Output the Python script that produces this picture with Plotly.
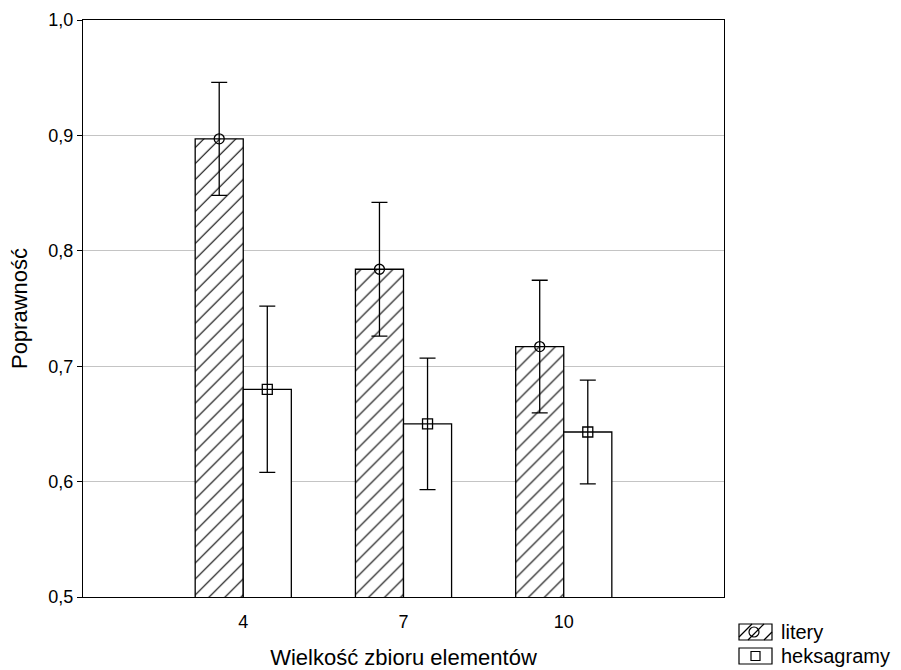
import plotly.graph_objects as go

# Set sizes and group means with their error-bar half-widths
set_sizes = ["4", "7", "10"]
litery_mean = [0.897, 0.784, 0.717]
litery_err = [0.049, 0.058, 0.0575]
heks_mean = [0.680, 0.650, 0.643]
heks_err = [0.072, 0.057, 0.045]
y_ticks = [0.5, 0.6, 0.7, 0.8, 0.9, 1.0]
series_names = ["litery", "heksagramy"]

FONT = "Liberation Sans, Arial, sans-serif"
W, H = 901, 670
L, R, T, B = 83, 177, 20, 73
PW, PH = W - L - R, H - T - B

pos = list(range(len(set_sizes)))
bar_w = 0.3

fig = go.Figure()

fig.add_trace(go.Bar(
    x=pos, y=litery_mean, name=series_names[0], width=bar_w, offset=-bar_w,
    marker=dict(color="white", line=dict(color="black", width=1.3),
                pattern=dict(shape="/", size=11.3, solidity=0.1,
                             fgcolor="black", fgopacity=1, bgcolor="white",
                             fillmode="replace")),
    error_y=dict(type="data", array=litery_err, visible=True,
                 color="black", thickness=1.3, width=8),
    showlegend=False,
))
fig.add_trace(go.Bar(
    x=pos, y=heks_mean, name=series_names[1], width=bar_w, offset=0,
    marker=dict(color="white", line=dict(color="black", width=1.3)),
    error_y=dict(type="data", array=heks_err, visible=True,
                 color="black", thickness=1.3, width=8),
    showlegend=False,
))

# Mean markers at the centre of each bar
fig.add_trace(go.Scatter(
    x=[p - bar_w / 2 for p in pos], y=litery_mean, mode="markers",
    marker=dict(symbol="circle-open", size=10, color="black", line=dict(width=1.3)),
    showlegend=False, hoverinfo="skip",
))
fig.add_trace(go.Scatter(
    x=[p + bar_w / 2 for p in pos], y=heks_mean, mode="markers",
    marker=dict(symbol="square-open", size=10, color="black", line=dict(width=1.3)),
    showlegend=False, hoverinfo="skip",
))


def px_x(v):
    return (v - L) / PW


def px_y(v):
    return (H - B - v) / PH


# Hand-drawn legend below the plot frame, on the right
shapes = []
line_k = dict(color="black", width=1.2)
shapes.append(dict(type="rect", xref="paper", yref="paper",
                   x0=px_x(739), x1=px_x(772), y0=px_y(640), y1=px_y(624),
                   line=line_k, fillcolor="white"))
for (xa, ya, xb, yb) in [(739, 637, 752, 624), (748, 640, 764, 624), (764, 640, 772, 632)]:
    shapes.append(dict(type="line", xref="paper", yref="paper",
                       x0=px_x(xa), y0=px_y(ya), x1=px_x(xb), y1=px_y(yb), line=line_k))
shapes.append(dict(type="circle", xref="paper", yref="paper",
                   x0=px_x(749), x1=px_x(759), y0=px_y(637), y1=px_y(627), line=line_k))
shapes.append(dict(type="rect", xref="paper", yref="paper",
                   x0=px_x(739), x1=px_x(772), y0=px_y(664), y1=px_y(648),
                   line=line_k, fillcolor="white"))
shapes.append(dict(type="rect", xref="paper", yref="paper",
                   x0=px_x(751), x1=px_x(760), y0=px_y(660.5), y1=px_y(651.5), line=line_k))

annotations = [
    dict(text=series_names[0], xref="paper", yref="paper", x=px_x(779), y=px_y(632),
         xanchor="left", yanchor="middle", showarrow=False,
         font=dict(family=FONT, size=20, color="black")),
    dict(text=series_names[1], xref="paper", yref="paper", x=px_x(779), y=px_y(656),
         xanchor="left", yanchor="middle", showarrow=False,
         font=dict(family=FONT, size=20, color="black")),
]

fig.update_layout(
    width=W, height=H,
    margin=dict(l=L, r=R, t=T, b=B, pad=0, autoexpand=False),
    paper_bgcolor="white", plot_bgcolor="white",
    separators=", ",
    barmode="overlay",
    font=dict(family=FONT, size=18, color="black"),
    shapes=shapes, annotations=annotations,
    xaxis=dict(
        range=[-1, 3], tickmode="array", tickvals=pos, ticktext=set_sizes,
        showgrid=False, ticks="", showline=True, linecolor="black", linewidth=1.3,
        mirror=True, zeroline=False, ticklabelstandoff=8, automargin=False,
        title=dict(text="Wielkość zbioru elementów", font=dict(size=22), standoff=21),
    ),
    yaxis=dict(
        range=[0.5, 1.0], tickvals=y_ticks, tickformat=".1f",
        showgrid=True, gridcolor="#c4c4c4", gridwidth=1,
        ticks="outside", ticklen=5, tickcolor="black", tickwidth=1,
        showline=True, linecolor="black", linewidth=1.3, mirror=True, zeroline=False,
        automargin=False,
        title=dict(text="Poprawność", font=dict(size=22), standoff=14),
    ),
)

fig.write_html("out.html")
